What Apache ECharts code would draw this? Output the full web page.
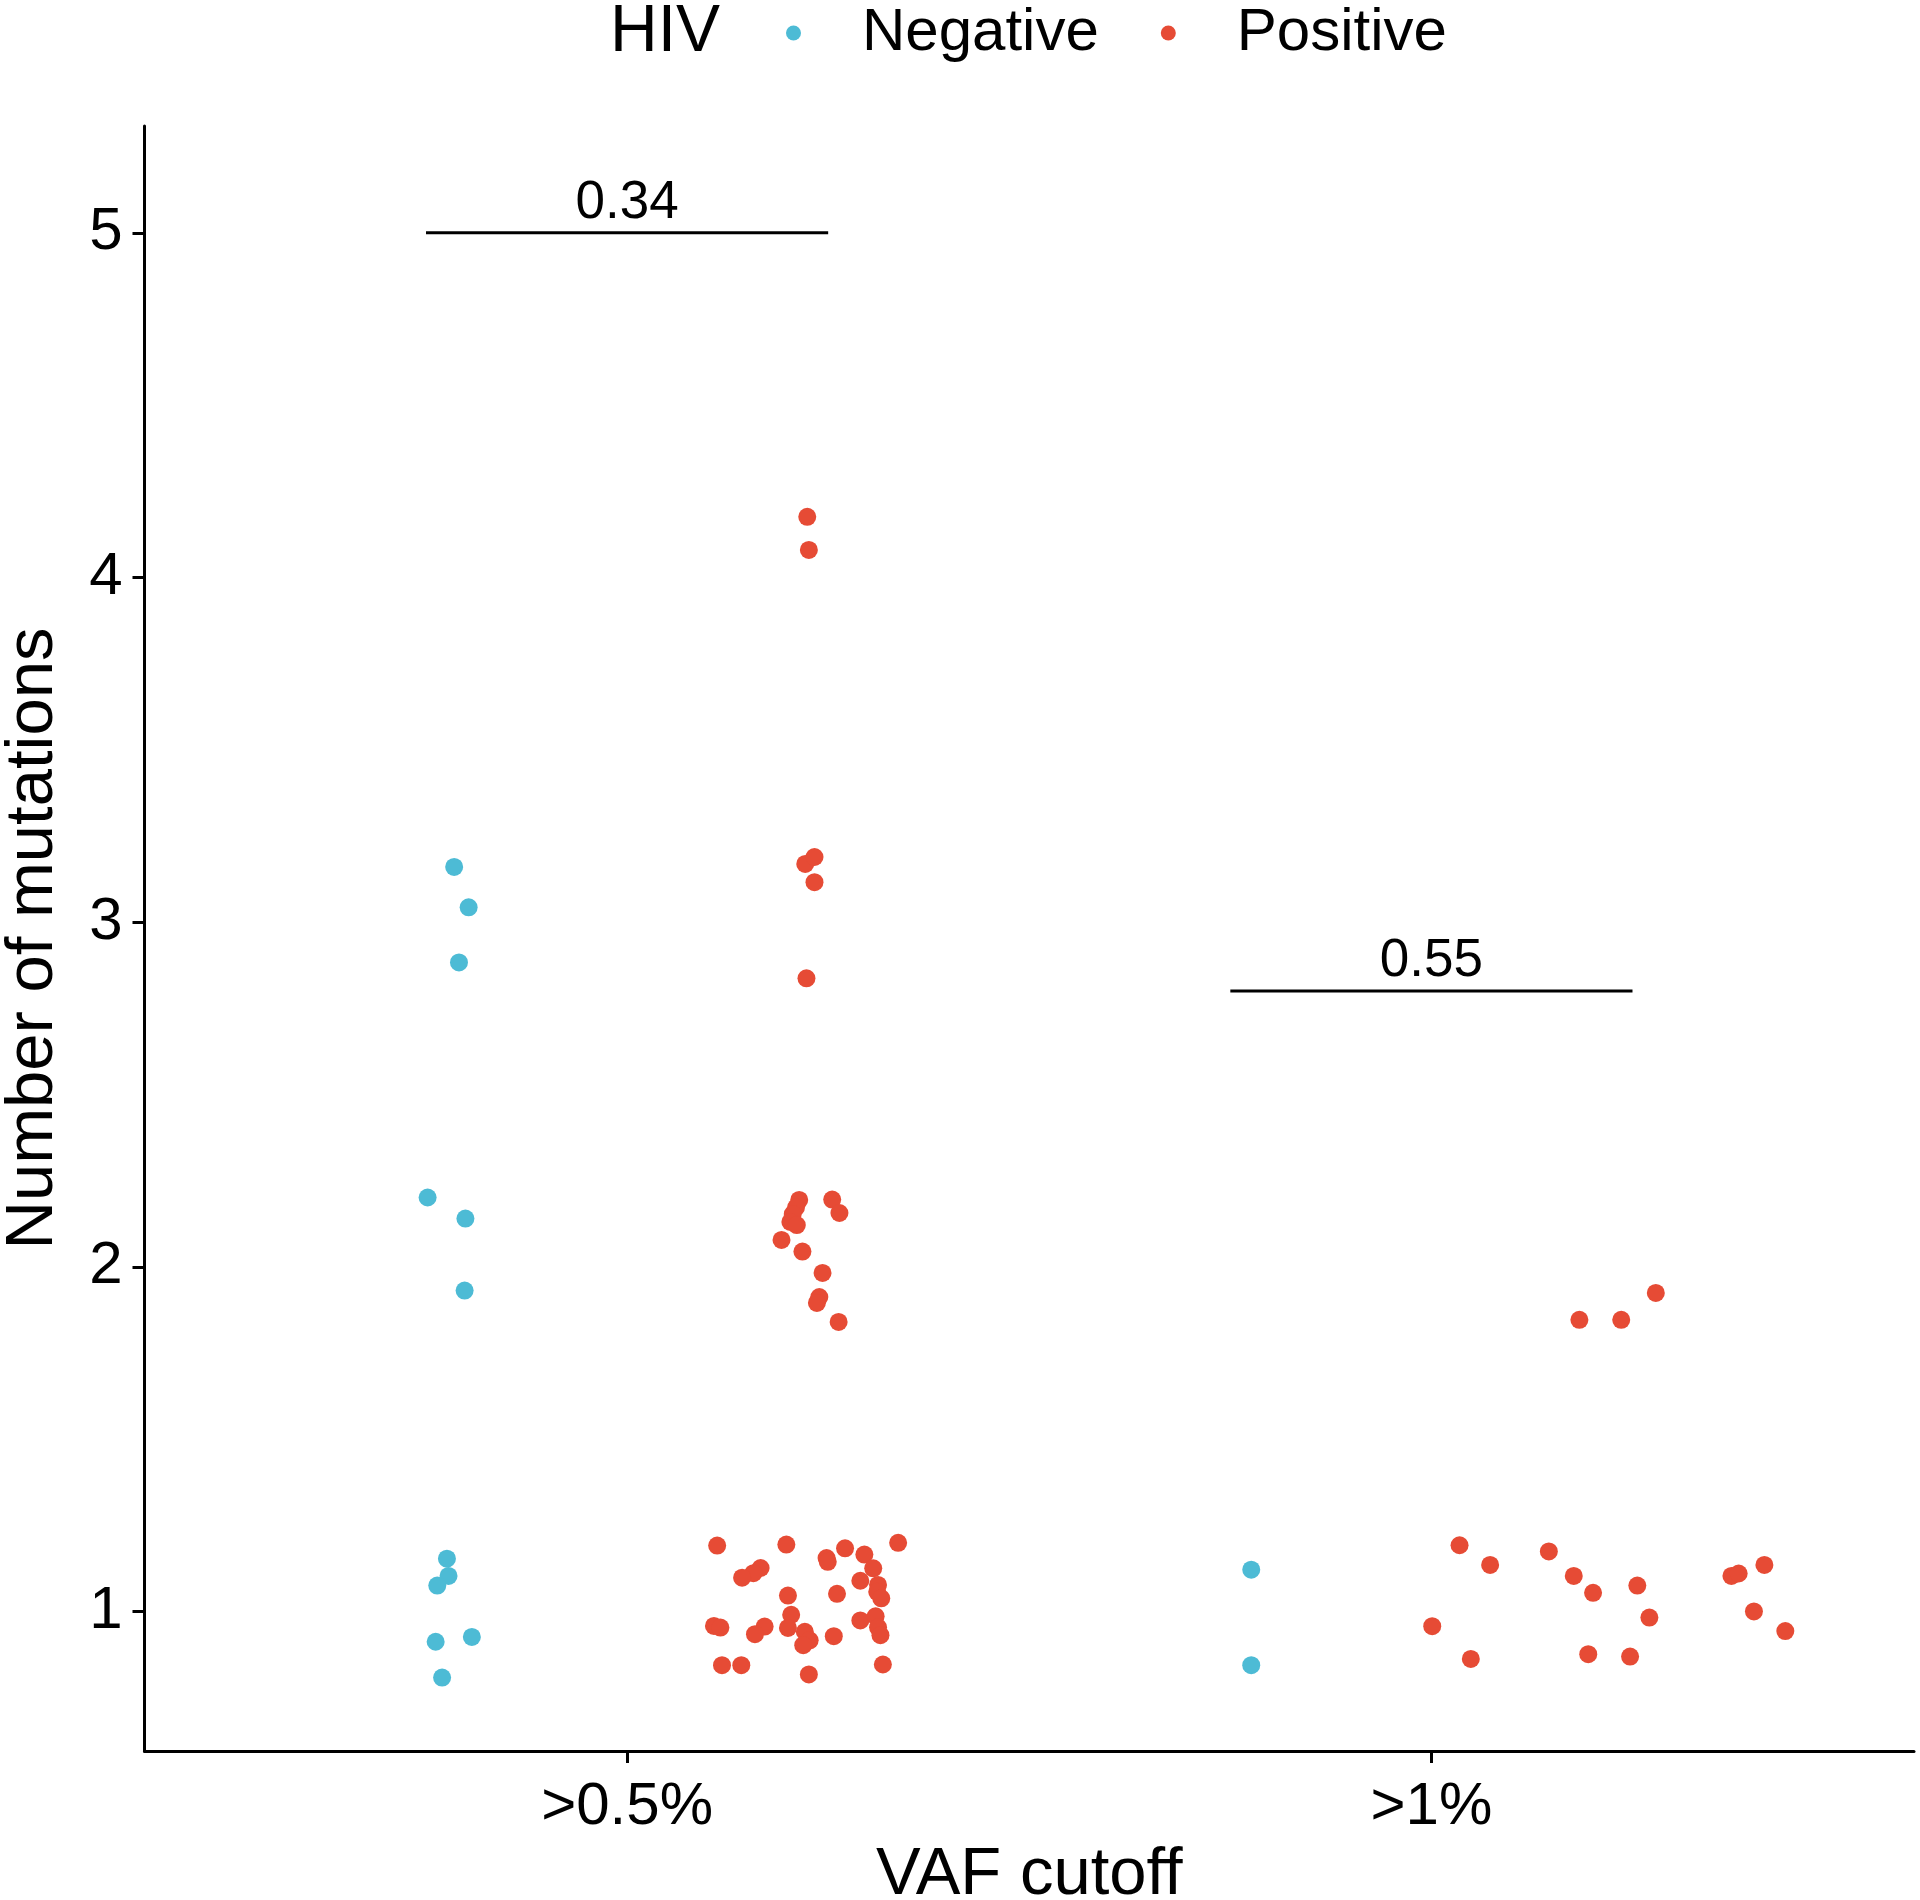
<!DOCTYPE html>
<html><head><meta charset="utf-8">
<script src="https://cdn.jsdelivr.net/npm/echarts@6/dist/echarts.min.js"></script>
<style>html,body{margin:0;padding:0;background:#fff}#c{width:1920px;height:1900px}</style>
</head><body><div id="c"></div>
<script>
// Categories (x positions 1 and 2) and tick labels
const categories = ['>0.5%', '>1%'];
const categoryPositions = [1, 2];
const yTicks = [1, 2, 3, 4, 5];

// Jittered points, HIV Negative
const negativeX = [0.785, 0.803, 0.791, 0.752, 0.799, 0.798, 0.776, 0.778, 0.764, 0.762, 0.807, 0.770,
                   1.776, 1.776];
const negativeY = [3.160, 3.043, 2.883, 2.201, 2.140, 1.931, 1.153, 1.103, 1.075, 0.912, 0.926, 0.808,
                   1.121, 0.844];

// Jittered points, HIV Positive
const positiveX = [
  1.224, 1.226, 1.2215, 1.233, 1.233, 1.223,
  1.214, 1.210, 1.206, 1.203, 1.211, 1.192, 1.255, 1.264, 1.218, 1.243, 1.239, 1.236, 1.263,
  1.112, 1.198, 1.337, 1.271, 1.295, 1.248, 1.2495, 1.166, 1.157, 1.143, 1.306, 1.290, 1.312, 1.311, 1.316,
  1.200, 1.261, 1.108, 1.116, 1.171, 1.159, 1.204, 1.200, 1.221, 1.227, 1.219, 1.257, 1.290, 1.309, 1.312,
  1.315, 1.118, 1.142, 1.226, 1.318,
  2.184, 2.236, 2.279, 2.035, 2.073, 2.146, 2.177, 2.201, 2.256, 2.271, 2.001, 2.049, 2.195, 2.247,
  2.373, 2.382, 2.414, 2.401, 2.440
];
const positiveY = [
  4.176, 4.080, 3.169, 3.189, 3.116, 2.837,
  2.194, 2.172, 2.153, 2.130, 2.121, 2.078, 2.195, 2.156, 2.044, 1.982, 1.912, 1.895, 1.840,
  1.191, 1.194, 1.199, 1.183, 1.165, 1.155, 1.144, 1.126, 1.111, 1.098, 1.125, 1.089, 1.077, 1.057, 1.038,
  1.046, 1.051, 0.958, 0.953, 0.956, 0.934, 0.990, 0.952, 0.941, 0.916, 0.902, 0.928, 0.974, 0.986, 0.954,
  0.931, 0.844, 0.844, 0.817, 0.846,
  1.846, 1.846, 1.924, 1.192, 1.135, 1.174, 1.103, 1.054, 1.075, 0.982, 0.957, 0.862, 0.876, 0.869,
  1.103, 1.110, 1.135, 1.000, 0.943
];

// Comparison brackets (p-values)
const bracketStart = [0.75, 1.75];
const bracketEnd = [1.25, 2.25];
const bracketY = [5, 2.8];
const bracketLabels = ['0.34', '0.55'];

const FONT = 'Liberation Sans';
const chart = echarts.init(document.getElementById('c'), null, {renderer: 'canvas'});

const zip = (xs, ys) => xs.map((x, i) => [x, ys[i]]);

const series = [
  {
    name: 'Negative', type: 'scatter', symbol: 'circle', symbolSize: 18,
    itemStyle: {color: '#4DBBD5', opacity: 1},
    data: zip(negativeX, negativeY), z: 3
  },
  {
    name: 'Positive', type: 'scatter', symbol: 'circle', symbolSize: 18,
    itemStyle: {color: '#E64B35', opacity: 1},
    data: zip(positiveX, positiveY), z: 3
  }
];
bracketY.forEach((y, i) => {
  series.push({
    type: 'line', symbol: 'none', silent: true,
    lineStyle: {color: '#000', width: 3},
    data: [[bracketStart[i], y], [bracketEnd[i], y]], z: 2
  });
  series.push({
    type: 'scatter', symbolSize: 0, silent: true,
    itemStyle: {color: '#000', opacity: 1},
    data: [[(bracketStart[i] + bracketEnd[i]) / 2, y]],
    label: {show: true, position: 'top', distance: 3, formatter: bracketLabels[i],
            color: '#000', opacity: 1, textBorderWidth: 0, fontSize: 53, fontFamily: FONT}
  });
});

chart.setOption({
  animation: false,
  backgroundColor: '#fff',
  title: {
    text: 'HIV', left: 610, top: 0, padding: 0,
    textStyle: {fontSize: 66, fontWeight: 'normal', color: '#000', fontFamily: FONT}
  },
  legend: {
    data: ['Negative', 'Positive'],
    left: 786, top: 3, padding: 0,
    icon: 'circle', itemWidth: 15, itemHeight: 15, itemGap: 62,
    textStyle: {fontSize: 60, color: '#000', fontFamily: FONT, padding: [0, 0, 0, 56]}
  },
  grid: {left: 144.5, right: 6, top: 126, bottom: 149, containLabel: false, outerBoundsMode: 'none'},
  xAxis: {
    type: 'value', min: 0.4, max: 2.6,
    name: 'VAF cutoff', nameLocation: 'middle', nameGap: 89,
    nameTextStyle: {fontSize: 67, color: '#000', fontFamily: FONT},
    axisLine: {show: true, onZero: false, lineStyle: {color: '#000', width: 3}},
    axisTick: {show: true, customValues: categoryPositions, length: 12, lineStyle: {color: '#000', width: 3}},
    axisLabel: {
      customValues: categoryPositions, margin: 26, fontSize: 60, color: '#000', fontFamily: FONT,
      formatter: v => categories[categoryPositions.indexOf(Math.round(v))] || ''
    },
    splitLine: {show: false}
  },
  yAxis: {
    type: 'value', min: 0.595, max: 5.31,
    name: 'Number of mutations', nameLocation: 'middle', nameGap: 77,
    nameTextStyle: {fontSize: 67, color: '#000', fontFamily: FONT},
    axisLine: {show: true, onZero: false, lineStyle: {color: '#000', width: 3}},
    axisTick: {show: true, customValues: yTicks, length: 12, lineStyle: {color: '#000', width: 3}},
    axisLabel: {customValues: yTicks, margin: 22, fontSize: 60, color: '#000', fontFamily: FONT},
    splitLine: {show: false}
  },
  series: series
});
</script></body></html>
